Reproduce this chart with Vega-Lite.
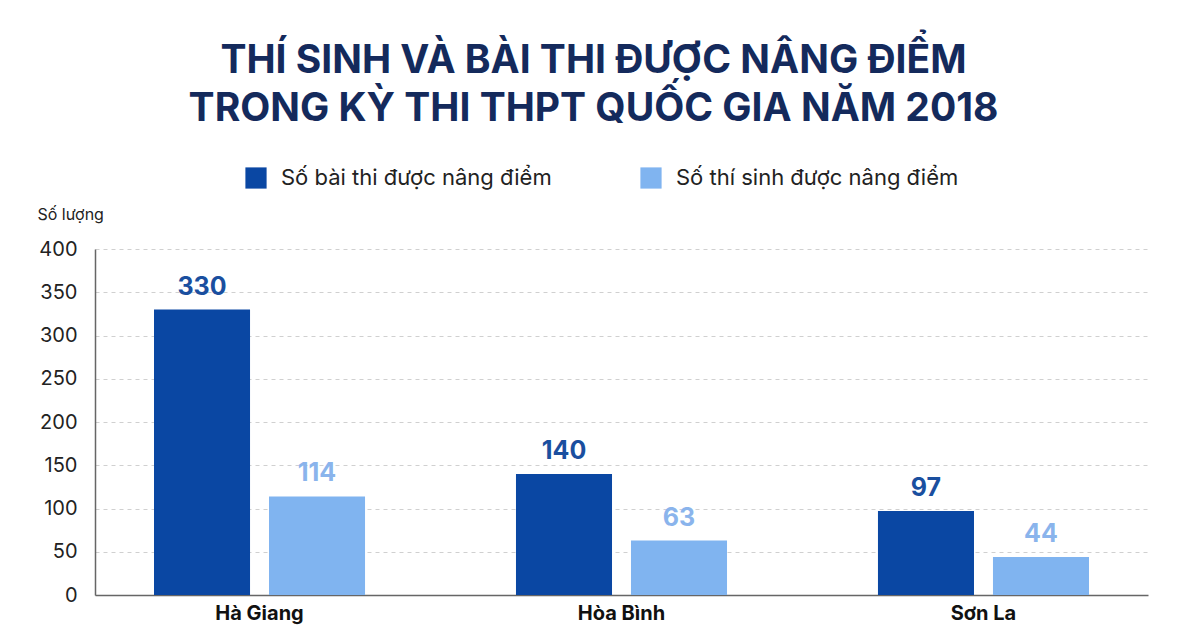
{
  "$schema": "https://vega.github.io/schema/vega-lite/v6.json",
  "width": 1053,
  "height": 346,
  "autosize": {"type": "none"},
  "padding": {"left": 95, "top": 249, "right": 52, "bottom": 35},
  "background": "white",
  "title": {
    "text": ["THÍ SINH VÀ BÀI THI ĐƯỢC NÂNG ĐIỂM", "TRONG KỲ THI THPT QUỐC GIA NĂM 2018"],
    "anchor": "middle",
    "font": "Inter",
    "fontSize": 39,
    "fontWeight": "bold",
    "color": "#142a5c",
    "lineHeight": 48,
    "offset": 38,
    "dx": -28
  },
  "data": {
    "values": [
      {"tinh": "Hà Giang", "loai": "Số bài thi được nâng điểm", "so_luong": 330},
      {"tinh": "Hà Giang", "loai": "Số thí sinh được nâng điểm", "so_luong": 114},
      {"tinh": "Hòa Bình", "loai": "Số bài thi được nâng điểm", "so_luong": 140},
      {"tinh": "Hòa Bình", "loai": "Số thí sinh được nâng điểm", "so_luong": 63},
      {"tinh": "Sơn La", "loai": "Số bài thi được nâng điểm", "so_luong": 97},
      {"tinh": "Sơn La", "loai": "Số thí sinh được nâng điểm", "so_luong": 44}
    ]
  },
  "encoding": {
    "x": {
      "field": "tinh",
      "type": "nominal",
      "sort": ["Hà Giang", "Hòa Bình", "Sơn La"],
      "title": null,
      "scale": {"paddingInner": 0.417, "paddingOuter": 0.163},
      "axis": {
        "labelAngle": 0,
        "labelFont": "Inter",
        "labelFontSize": 20,
        "labelFontWeight": "bold",
        "labelColor": "#111",
        "labelPadding": 8,
        "ticks": false,
        "domainColor": "#666",
        "domainWidth": 1.5
      }
    },
    "xOffset": {
      "field": "loai",
      "type": "nominal",
      "sort": ["Số bài thi được nâng điểm", "Số thí sinh được nâng điểm"],
      "scale": {"paddingInner": 0.165}
    },
    "y": {
      "field": "so_luong",
      "type": "quantitative",
      "scale": {"domain": [0, 400]},
      "title": "Số lượng",
      "axis": {
        "values": [0, 50, 100, 150, 200, 250, 300, 350, 400],
        "labelFont": "Inter",
        "labelFontSize": 20,
        "labelColor": "#222",
        "labelPadding": 18,
        "ticks": false,
        "domainColor": "#666",
        "domainWidth": 1.5,
        "gridColor": "#d0d0d0",
        "gridDash": [4, 4],
        "titleAngle": 0,
        "titleFont": "Inter",
        "titleFontSize": 16,
        "titleFontWeight": "normal",
        "titleColor": "#222",
        "titleAlign": "left",
        "titleBaseline": "alphabetic",
        "titleX": -58,
        "titleY": -30
      }
    },
    "color": {
      "field": "loai",
      "type": "nominal",
      "sort": ["Số bài thi được nâng điểm", "Số thí sinh được nâng điểm"],
      "scale": {"range": ["#0a47a3", "#80b4f0"]}
    }
  },
  "layer": [
    {
      "mark": {"type": "bar"},
      "encoding": {
        "color": {
          "field": "loai",
          "type": "nominal",
          "sort": ["Số bài thi được nâng điểm", "Số thí sinh được nâng điểm"],
          "scale": {"range": ["#0a47a3", "#80b4f0"]},
          "legend": {
            "title": null,
            "orient": "none",
            "direction": "horizontal",
            "legendX": 150,
            "legendY": -82,
            "symbolType": "square",
            "symbolSize": 450,
            "symbolStrokeWidth": 0,
            "labelFont": "Inter",
            "labelFontSize": 22,
            "labelColor": "#222",
            "labelOffset": 14,
            "columnPadding": 88,
            "labelLimit": 400
          }
        }
      }
    },
    {
      "mark": {
        "type": "text",
        "baseline": "bottom",
        "dy": -10,
        "font": "Inter",
        "fontSize": 25,
        "fontWeight": "bold"
      },
      "encoding": {
        "text": {"field": "so_luong", "type": "quantitative"},
        "color": {
          "field": "loai",
          "type": "nominal",
          "sort": ["Số bài thi được nâng điểm", "Số thí sinh được nâng điểm"],
          "scale": {"range": ["#1a4f9f", "#8ab4ec"]},
          "legend": null
        }
      }
    }
  ],
  "resolve": {"scale": {"color": "independent"}},
  "config": {
    "view": {"stroke": null},
    "axis": {"gridWidth": 1}
  }
}
